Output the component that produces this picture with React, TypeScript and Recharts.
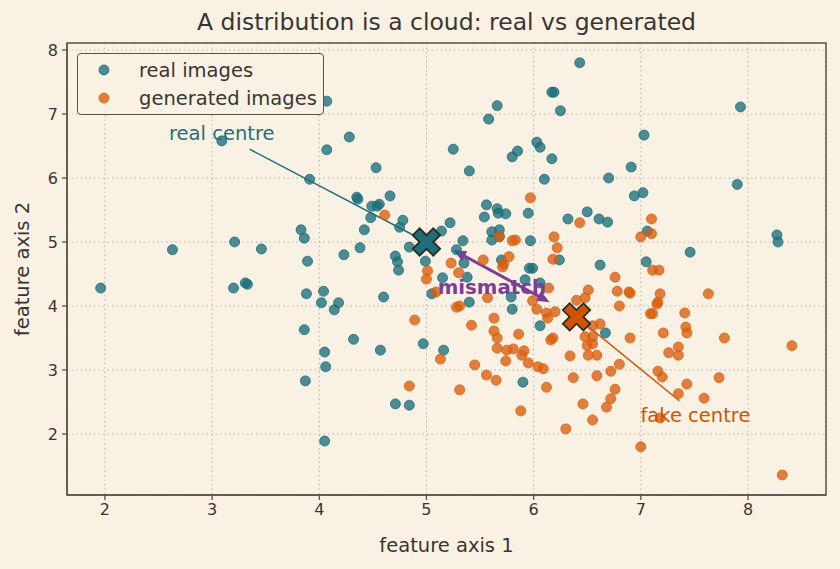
import React from 'react';
import {
  ScatterChart, Scatter, XAxis, YAxis, CartesianGrid, ReferenceLine,
  ReferenceDot, ReferenceArea,
} from 'recharts';

// values
const realPts: [number, number][] = [
  [1.96, 4.28], [2.63, 4.88], [3.09, 6.58], [3.21, 5.0], [3.2, 4.28], [3.31, 4.36], [3.33, 4.34],
  [3.46, 4.89], [3.91, 5.98], [3.83, 5.19], [3.86, 5.06], [3.89, 4.7], [3.88, 4.19], [3.86, 3.63],
  [3.87, 2.83], [4.07, 7.2], [4.07, 6.44], [4.04, 4.23], [4.02, 4.05], [4.18, 4.05], [4.14, 3.94],
  [4.05, 3.28], [4.06, 3.05], [4.05, 1.89], [4.23, 4.8], [4.38, 4.91], [4.28, 6.64], [4.35, 5.7],
  [4.36, 5.67], [4.32, 3.48], [4.42, 5.19], [4.53, 6.16], [4.48, 5.38], [4.49, 5.56], [4.54, 5.56],
  [4.56, 5.59], [4.66, 5.72], [4.78, 5.34], [4.75, 5.23], [4.84, 4.92], [4.71, 4.78], [4.73, 4.69],
  [4.74, 4.56], [4.6, 4.14], [4.57, 3.31], [4.71, 2.47], [4.84, 2.45], [4.97, 3.41], [4.99, 4.7],
  [5.05, 4.19], [5.14, 5.17], [5.22, 5.3], [5.34, 5.02], [5.28, 4.88], [5.35, 4.67], [5.15, 4.44],
  [5.38, 4.45], [5.4, 4.06], [5.16, 3.31], [5.25, 6.45], [5.4, 6.11], [5.58, 6.92], [5.66, 7.13],
  [5.8, 6.33], [5.85, 6.42], [6.03, 6.56], [6.06, 6.48], [6.17, 6.3], [6.1, 5.98], [6.17, 7.34],
  [6.19, 7.34], [6.25, 7.05], [6.43, 7.8], [5.54, 5.39], [5.56, 5.58], [5.66, 5.52], [5.67, 5.45],
  [5.74, 5.44], [5.95, 5.45], [5.61, 5.16], [5.68, 5.19], [5.61, 5.03], [5.68, 5.08], [5.97, 5.02],
  [5.7, 4.72], [6.24, 4.72], [5.92, 4.41], [5.96, 4.59], [5.99, 4.59], [6.06, 4.36], [5.79, 4.14],
  [5.8, 3.95], [6.06, 3.69], [5.9, 2.81], [6.67, 3.58], [6.32, 5.36], [6.5, 5.47], [6.61, 5.36],
  [6.69, 5.31], [6.7, 6.0], [6.91, 6.17], [6.94, 5.72], [7.02, 5.77], [7.03, 6.67], [7.06, 5.17],
  [7.05, 4.69], [6.62, 4.64], [7.46, 4.84], [7.9, 5.9], [7.93, 7.11], [8.27, 5.11], [8.28, 5.0],
];

const fakePts: [number, number][] = [
  [4.61, 5.42], [5.97, 5.69], [6.43, 5.3], [5.68, 5.09], [5.8, 5.02], [5.83, 5.03], [6.19, 5.08],
  [6.22, 4.91], [6.18, 4.73], [5.53, 4.72], [5.77, 4.77], [5.72, 4.66], [7.1, 5.36], [7.0, 5.08],
  [7.1, 5.13], [7.11, 4.56], [7.17, 4.56], [6.76, 4.45], [6.51, 4.25], [6.48, 4.13], [6.4, 4.09],
  [6.78, 4.23], [6.89, 4.22], [6.9, 4.2], [6.8, 4.0], [7.18, 4.19], [7.16, 4.06], [7.15, 4.03],
  [7.63, 4.19], [7.09, 3.88], [7.11, 3.88], [7.41, 3.89], [7.21, 3.58], [7.42, 3.67], [7.43, 3.58],
  [7.78, 3.5], [6.9, 3.5], [6.62, 3.72], [6.55, 3.69], [6.48, 3.52], [6.55, 3.52], [6.55, 3.41],
  [6.5, 3.38], [6.51, 3.23], [6.59, 3.23], [6.34, 3.22], [6.8, 3.09], [6.72, 2.98], [6.37, 2.88],
  [6.59, 2.91], [7.16, 2.98], [7.2, 2.89], [7.26, 3.27], [7.35, 3.36], [7.35, 3.23], [8.41, 3.38],
  [7.73, 2.88], [7.43, 2.78], [6.76, 2.7], [6.72, 2.55], [6.68, 2.42], [6.46, 2.47], [7.35, 2.63],
  [7.59, 2.56], [6.55, 2.22], [7.18, 2.25], [7.0, 1.8], [8.32, 1.36], [6.3, 2.08], [5.88, 2.36],
  [6.12, 2.73], [6.09, 3.02], [6.04, 3.05], [5.95, 3.11], [5.74, 3.14], [5.91, 3.3], [5.89, 3.23],
  [5.75, 3.31], [5.81, 3.33], [5.66, 3.34], [5.45, 3.08], [5.56, 2.92], [5.65, 2.84], [5.31, 2.69],
  [4.84, 2.75], [5.13, 3.17], [5.86, 3.56], [5.63, 3.61], [5.66, 3.5], [5.63, 3.81], [5.42, 3.7],
  [4.89, 3.78], [5.28, 3.98], [5.31, 4.0], [5.57, 4.13], [5.09, 4.22], [5.01, 4.55], [5.0, 4.42],
  [5.3, 4.52], [5.23, 4.67], [5.71, 4.61], [5.99, 4.08], [6.03, 3.95], [6.12, 3.89], [6.13, 3.81],
  [6.2, 3.91], [6.14, 4.28], [6.16, 3.47], [6.18, 3.5],
];

const realCentre = [{ x: 5.0, y: 5.0 }];
const fakeCentre = [{ x: 6.4, y: 3.83 }];

const realLabel = { text: 'real centre', x: 3.09, y: 6.7, fromX: 3.35, fromY: 6.45 };
const fakeLabel = { text: 'fake centre', x: 7.51, y: 2.3, fromX: 7.36, fromY: 2.52 };
const mismatch = { text: 'mismatch', x: 5.61, y: 4.3, x1: 5.25, y1: 4.875, x2: 6.15, y2: 4.06 };

const legendItems = ['real images', 'generated images'];

const xTicks = [2, 3, 4, 5, 6, 7, 8];
const yTicks = [2, 3, 4, 5, 6, 7, 8];
const xDomain: [number, number] = [1.646, 8.728];
const yDomain: [number, number] = [1.047, 8.109];

const BG = '#f9f2e4';
const INK = '#3a3530';
const FRAME = '#5b5348';
const TEAL = '#1b6e7a';
const ORANGE = '#d95f0e';
const PURPLE = '#7d3c98';
const FONT = '"DejaVu Sans", sans-serif';
const FS = 19.5;

const realData = realPts.map(([x, y]) => ({ x, y }));
const fakeData = fakePts.map(([x, y]) => ({ x, y }));

const dot = (color: string) => (props: any) => (
  <circle cx={props.cx} cy={props.cy} r={5} fill={color} fillOpacity={0.78}
    stroke={color} strokeOpacity={0.78} strokeWidth={1} />
);

// matplotlib style filled "X" marker
const plus = [
  [1, 3], [1, 1], [3, 1], [3, -1], [1, -1], [1, -3],
  [-1, -3], [-1, -1], [-3, -1], [-3, 1], [-1, 1], [-1, 3],
];
const bigX = (color: string) => (props: any) => {
  const s = 29 / 6;
  const pts = plus.map(([u, v]) => {
    const a = ((u - v) / Math.SQRT2) * s;
    const b = ((u + v) / Math.SQRT2) * s;
    return `${props.cx + a},${props.cy + b}`;
  }).join(' ');
  return <polygon points={pts} fill={color} stroke="#2d2a26" strokeWidth={1.8} strokeLinejoin="miter" />;
};

const doubleArrow = (props: any) => {
  const { x1, y1, x2, y2 } = props;
  const dx = x2 - x1, dy = y2 - y1;
  const len = Math.sqrt(dx * dx + dy * dy);
  const ux = dx / len, uy = dy / len;
  const hl = 13, hw = 5.5;
  const head = (px: number, py: number, dirx: number, diry: number) => {
    const bx = px - dirx * hl, by = py - diry * hl;
    return `${px},${py} ${bx - diry * hw},${by + dirx * hw} ${bx + diry * hw},${by - dirx * hw}`;
  };
  return (
    <g>
      <line x1={x1 + ux * 8} y1={y1 + uy * 8} x2={x2 - ux * 8} y2={y2 - uy * 8} stroke={PURPLE} strokeWidth={3} />
      <polygon points={head(x1, y1, -ux, -uy)} fill={PURPLE} />
      <polygon points={head(x2, y2, ux, uy)} fill={PURPLE} />
    </g>
  );
};

const LegendBox = () => (
  <div style={{
    position: 'absolute', left: 77, top: 53, width: 247, height: 62,
    border: `1.3px solid ${FRAME}`, borderRadius: 4, background: BG,
    fontFamily: FONT, fontSize: FS, color: INK, boxSizing: 'border-box',
  }}>
    {legendItems.map((t, i) => {
      const c = i === 0 ? TEAL : ORANGE;
      return (
        <div key={t} style={{ position: 'absolute', left: 0, top: 4 + i * 28, height: 24, display: 'flex', alignItems: 'center' }}>
          <svg width={54} height={24} style={{ display: 'block' }}>
            <circle cx={26} cy={12} r={5} fill={c} fillOpacity={0.78} stroke={c} strokeOpacity={0.78} />
          </svg>
          <span style={{ marginLeft: 7, whiteSpace: 'nowrap' }}>{t}</span>
        </div>
      );
    })}
  </div>
);

const YLabel = (props: any) => {
  const vb = props.viewBox;
  const cx = 22, cy = vb.y + vb.height / 2;
  return (
    <text x={cx} y={cy} transform={`rotate(-90 ${cx} ${cy})`} textAnchor="middle"
      dominantBaseline="central" fill={INK} fontSize={FS} fontFamily={FONT}>feature axis 2</text>
  );
};

const XLabel = (props: any) => {
  const vb = props.viewBox;
  return (
    <text x={vb.x + vb.width / 2} y={545} textAnchor="middle" dominantBaseline="central"
      fill={INK} fontSize={FS} fontFamily={FONT}>feature axis 1</text>
  );
};

const App = () => (
  <div style={{ position: 'fixed', left: 0, top: 0, width: 840, height: 569, background: BG, fontFamily: FONT }}>
    <div style={{
      position: 'absolute', left: 67, width: 759, top: 8, textAlign: 'center',
      fontSize: 23.5, color: INK, fontFamily: FONT, lineHeight: '28px',
    }}>
      A distribution is a cloud: real vs generated
    </div>
    <ScatterChart width={840} height={569} margin={{ top: 43, right: 14, bottom: 0, left: 0 }}>
      <CartesianGrid stroke="#bdb3a3" strokeDasharray="1.5 3" strokeWidth={1} />
      <XAxis type="number" dataKey="x" domain={xDomain} ticks={xTicks} allowDataOverflow interval={0}
        height={74} tickSize={5} tickMargin={4} stroke={FRAME} strokeWidth={1.3}
        tick={{ fill: INK, fontSize: 16, fontFamily: FONT }} label={<XLabel />} />
      <YAxis type="number" dataKey="y" domain={yDomain} ticks={yTicks} allowDataOverflow interval={0}
        width={67} tickSize={5} tickMargin={4} stroke={FRAME} strokeWidth={1.3}
        tick={{ fill: INK, fontSize: 16, fontFamily: FONT }} label={<YLabel />} />
      <ReferenceArea x1={xDomain[0]} x2={xDomain[1]} y1={yDomain[0]} y2={yDomain[1]}
        fill="none" stroke={FRAME} strokeWidth={1.5} ifOverflow="visible" />
      <Scatter name="real images" data={realData} shape={dot(TEAL)} isAnimationActive={false} />
      <Scatter name="generated images" data={fakeData} shape={dot(ORANGE)} isAnimationActive={false} />
      <ReferenceLine segment={[{ x: realLabel.fromX, y: realLabel.fromY }, realCentre[0]]}
        stroke={TEAL} strokeWidth={1.5} />
      <ReferenceLine segment={[{ x: fakeLabel.fromX, y: fakeLabel.fromY }, fakeCentre[0]]}
        stroke="#cc5500" strokeWidth={1.5} />
      <Scatter data={realCentre} shape={bigX(TEAL)} isAnimationActive={false} legendType="none" />
      <Scatter data={fakeCentre} shape={bigX('#d35400')} isAnimationActive={false} legendType="none" />
      <ReferenceLine segment={[{ x: mismatch.x1, y: mismatch.y1 }, { x: mismatch.x2, y: mismatch.y2 }]}
        shape={doubleArrow} />
      <ReferenceDot x={realLabel.x} y={realLabel.y} r={0} fill="none" stroke="none"
        label={{ value: realLabel.text, position: 'center', fill: '#1f6f7c', fontSize: FS, fontFamily: FONT }} />
      <ReferenceDot x={fakeLabel.x} y={fakeLabel.y} r={0} fill="none" stroke="none"
        label={{ value: fakeLabel.text, position: 'center', fill: '#cc5500', fontSize: FS, fontFamily: FONT }} />
      <ReferenceDot x={mismatch.x} y={mismatch.y} r={0} fill="none" stroke="none"
        label={{ value: mismatch.text, position: 'center', fill: PURPLE, fontSize: 19.8, fontWeight: 'bold', fontFamily: FONT }} />
    </ScatterChart>
    <LegendBox />
  </div>
);

export default App;
